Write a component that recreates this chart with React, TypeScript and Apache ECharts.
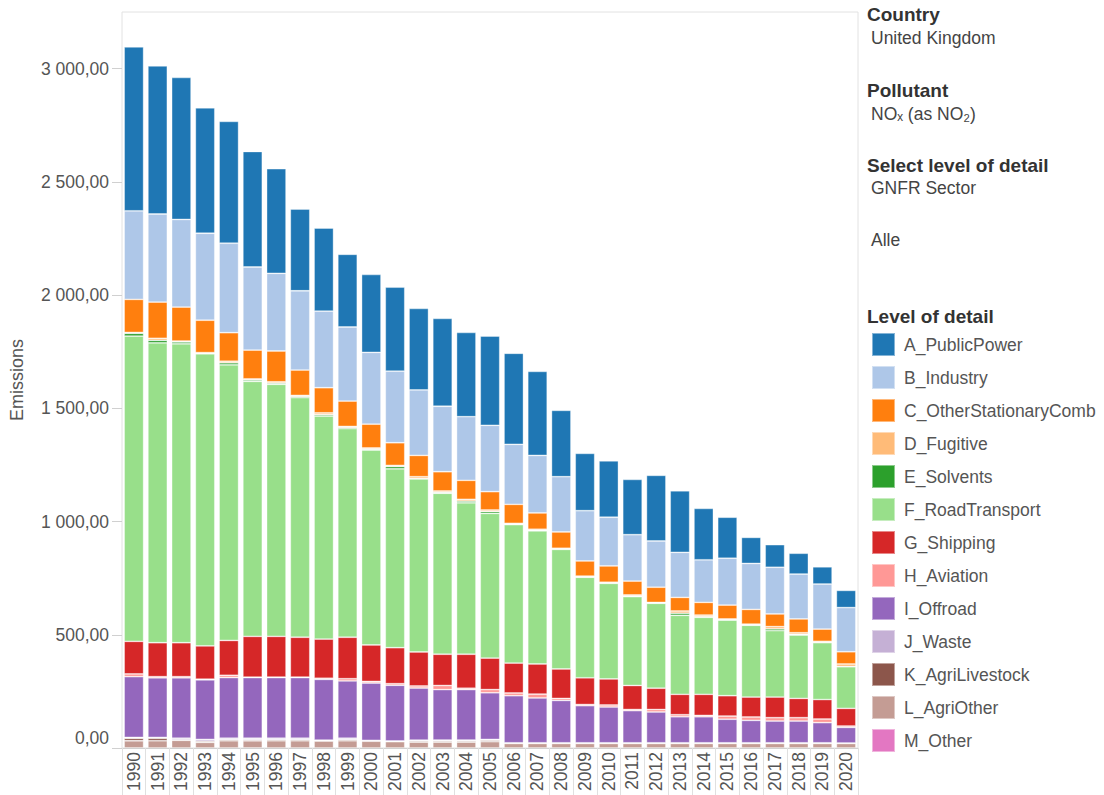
import React, { useEffect, useRef } from "react";
import * as echarts from "echarts";

const years = [
  "1990","1991","1992","1993","1994","1995","1996","1997","1998","1999",
  "2000","2001","2002","2003","2004","2005","2006","2007","2008","2009",
  "2010","2011","2012","2013","2014","2015","2016","2017","2018","2019","2020",
];

const A_PublicPower = [724,654,627,554,538,510,462,361,367,321,344,371,360,388,372,394,402,371,293,253,249,244,290,272,227,181,115,100,92,76,76];
const B_Industry = [391,389,387,384,395,367,343,350,338,327,317,316,289,289,281,293,265,254,244,222,215,205,204,199,188,207,203,206,198,199,195];
const C_OtherStationaryComb = [146,160,150,143,126,127,136,112,111,112,105,100,94,85,84,81,84,72,72,67,72,61,67,60,56,61,65,56,61,54,54];
const D_Fugitive = [4,9,4,3,7,5,6,5,8,5,5,5,8,6,8,7,4,5,4,4,4,5,3,10,7,4,4,10,7,5,11];
const E_Solvents = [12,11,8,2,9,6,5,5,6,5,4,10,2,4,7,8,2,2,1,1,1,3,1,9,3,1,1,8,3,1,1];
const F_RoadTransport = [1348,1324,1320,1290,1217,1126,1113,1058,985,921,861,790,764,711,669,639,611,588,528,444,422,392,375,349,340,334,317,293,280,251,184];
const G_Shipping = [144,150,150,147,154,180,180,176,173,183,161,159,150,138,150,139,132,133,130,118,115,106,94,90,93,90,88,91,85,86,78];
const H_Aviation = [12,5,5,3,10,2,2,2,5,10,7,7,9,18,6,14,12,17,9,5,9,5,11,9,6,14,15,15,15,16,6];
const I_Offroad = [268,263,267,263,268,268,268,268,268,253,253,246,230,223,223,206,208,198,187,164,158,142,136,115,115,104,99,96,96,89,69];
const J_Waste = [4,4,7,8,6,6,6,6,3,6,4,3,4,4,4,4,3,3,3,3,3,3,3,3,3,3,3,3,3,3,2];
const K_AgriLivestock = [11,11,2,5,5,5,5,5,1,5,0,0,5,5,5,6,0,0,0,0,0,0,0,0,0,0,0,0,0,0,0];
const L_AgriOther = [32,32,34,25,32,32,32,32,31,32,30,28,26,26,26,28,20,20,20,20,20,20,20,20,20,20,20,20,20,20,20];
const M_Other = [0,0,0,0,0,0,0,0,0,0,0,0,0,0,0,0,0,0,0,0,0,0,0,0,0,0,0,0,0,0,0];

const seriesNames = [
  "A_PublicPower","B_Industry","C_OtherStationaryComb","D_Fugitive","E_Solvents",
  "F_RoadTransport","G_Shipping","H_Aviation","I_Offroad","J_Waste",
  "K_AgriLivestock","L_AgriOther","M_Other",
];
const seriesValues = [
  A_PublicPower,B_Industry,C_OtherStationaryComb,D_Fugitive,E_Solvents,
  F_RoadTransport,G_Shipping,H_Aviation,I_Offroad,J_Waste,
  K_AgriLivestock,L_AgriOther,M_Other,
];
const seriesColors = [
  "#1f77b4","#aec7e8","#ff7f0e","#ffbb78","#2ca02c","#98df8a","#d62728",
  "#ff9896","#9467bd","#c5b0d5","#8c564b","#c49c94","#e377c2",
];

const FONT = "'Liberation Sans', Arial, sans-serif";

function fmt(v: number): string {
  const s = v.toFixed(2);
  const [i, d] = s.split(".");
  const withSep = i.replace(/\B(?=(\d{3})+(?!\d))/g, " ");
  return withSep + "," + d;
}

export default function App() {
  const ref = useRef<HTMLDivElement>(null);
  useEffect(() => {
    if (!ref.current) return;
    const chart = echarts.init(ref.current, undefined, { renderer: "svg" });
    const order = seriesNames.map((_, i) => i).reverse();
    const series = order.map((i) => ({
      name: seriesNames[i],
      type: "bar",
      stack: "total",
      barCategoryGap: "18%",
      itemStyle: {
        color: seriesColors[i],
        borderColor: "rgba(255,255,255,0.45)",
        borderWidth: 0.8,
      },
      data: seriesValues[i].map((v) => (v === 0 ? "-" : v)),
    }));
    const headStyle = { fill: "#333", font: `bold 19px ${FONT}` };
    const valStyle = { fill: "#444", font: `17.5px ${FONT}` };
    chart.setOption({
      animation: false,
      grid: {
        left: 116,
        right: 246,
        top: 12,
        bottom: 47,
        show: true,
        borderColor: "#e2e2e2",
        borderWidth: 1,
      },
      xAxis: {
        type: "category",
        data: years,
        axisLine: { show: true, lineStyle: { color: "#d0d0d0" } },
        axisTick: { show: true, interval: 0, length: 50, lineStyle: { color: "#e0e0e0" } },
        axisLabel: {
          rotate: 90,
          interval: 0,
          margin: 4,
          color: "#555",
          fontSize: 17.5,
          fontFamily: FONT,
        },
      },
      yAxis: {
        type: "value",
        min: 0,
        max: 3250,
        interval: 500,
        name: "Emissions",
        nameLocation: "middle",
        nameRotate: 90,
        nameGap: 96,
        nameTextStyle: { color: "#555", fontSize: 18, fontFamily: FONT },
        axisLine: { show: false },
        axisTick: { show: true, length: 10, lineStyle: { color: "#d0d0d0" } },
        splitLine: { show: false },
        axisLabel: {
          margin: 13,
          color: "#555",
          fontSize: 17.5,
          fontFamily: FONT,
          formatter: (v: number) => (v === 0 ? "{z|" + fmt(v) + "}" : fmt(v)),
          rich: { z: { color: "#555", fontSize: 17.5, fontFamily: FONT, padding: [0, 0, 20, 0] } },
          showMaxLabel: false,
        },
      },
      legend: {
        orient: "vertical",
        left: 871,
        top: 332,
        padding: 0,
        icon: "rect",
        itemWidth: 23,
        itemHeight: 23,
        itemGap: 8,
        data: seriesNames,
        selectedMode: false,
        textStyle: { color: "#555", fontSize: 17.5, fontFamily: FONT, padding: [0, 0, 0, 4] },
      },
      graphic: [
        { type: "text", left: 867, top: 5, style: { text: "Country", ...headStyle } },
        { type: "text", left: 871, top: 29, style: { text: "United Kingdom", ...valStyle } },
        { type: "text", left: 867, top: 81, style: { text: "Pollutant", ...headStyle } },
        { type: "text", left: 871, top: 105, style: { text: "NOₓ (as NO₂)", ...valStyle } },
        { type: "text", left: 867, top: 156, style: { text: "Select level of detail", ...headStyle } },
        { type: "text", left: 871, top: 179, style: { text: "GNFR Sector", ...valStyle } },
        { type: "text", left: 871, top: 231, style: { text: "Alle", ...valStyle } },
        { type: "text", left: 867, top: 307, style: { text: "Level of detail", ...headStyle } },
      ],
      series,
    });
    return () => chart.dispose();
  }, []);
  return (
    <div
      ref={ref}
      style={{ position: "absolute", left: 0, top: 0, width: 1104, height: 795, background: "#fff" }}
    />
  );
}
